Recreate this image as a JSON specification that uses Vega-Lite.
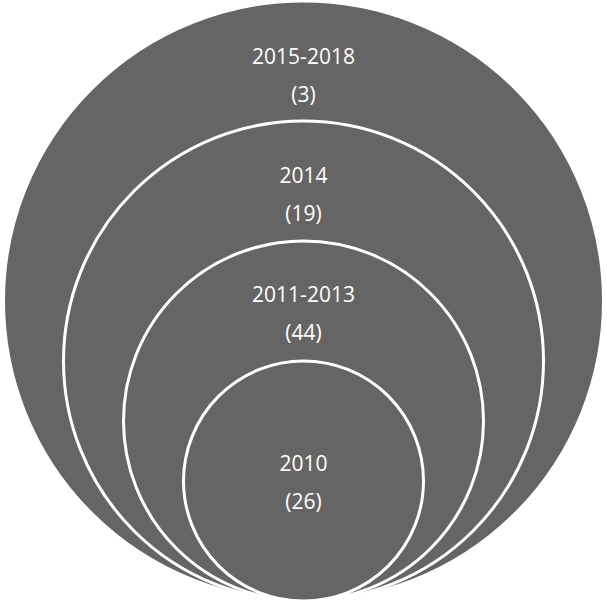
{
  "$schema": "https://vega.github.io/schema/vega-lite/v6.json",
  "width": 607,
  "height": 605,
  "padding": 0,
  "autosize": "none",
  "background": "white",
  "config": {"view": {"stroke": null}},
  "data": {"values": [
    {"period": "2015-2018", "count": 3, "level": 5},
    {"period": "2014", "count": 19, "level": 4},
    {"period": "2011-2013", "count": 44, "level": 3},
    {"period": "2010", "count": 26, "level": 2}
  ]},
  "layer": [
    {
      "mark": {"type": "point", "shape": "circle", "filled": true, "fill": "#656565", "fillOpacity": 1, "stroke": "white", "strokeWidth": 3, "opacity": 1},
      "encoding": {
        "y": {"field": "level", "type": "quantitative", "scale": {"domain": [0, 10], "range": [601, 1], "nice": false, "zero": false}, "axis": null},
        "size": {"field": "level", "type": "quantitative", "scale": {"type": "pow", "exponent": 2, "domain": [0, 5], "range": [0, 360000]}, "legend": null},
        "order": {"field": "level", "sort": "descending"}
      }
    },
    {
      "transform": [{"filter": "datum.level >= 3"}],
      "mark": {"type": "text", "color": "white", "font": "Open Sans", "fontSize": 21, "lineBreak": "\n", "lineHeight": 38, "baseline": "middle", "align": "center",
        "text": {"expr": "datum.period + '\\n(' + datum.count + ')'"}},
      "encoding": {
        "y": {"field": "level", "type": "quantitative", "scale": {"domain": [3, 5], "range": [296, 58], "nice": false, "zero": false}, "axis": null}
      }
    },
    {
      "transform": [{"filter": "datum.level == 2"}],
      "mark": {"type": "text", "color": "white", "font": "Open Sans", "fontSize": 21, "lineBreak": "\n", "lineHeight": 38, "baseline": "middle", "align": "center", "dy": -16,
        "text": {"expr": "datum.period + '\\n(' + datum.count + ')'"}},
      "encoding": {
        "y": {"field": "level", "type": "quantitative", "scale": {"domain": [0, 10], "range": [601, 1], "nice": false, "zero": false}, "axis": null}
      }
    }
  ],
  "resolve": {"scale": {"y": "independent"}}
}
